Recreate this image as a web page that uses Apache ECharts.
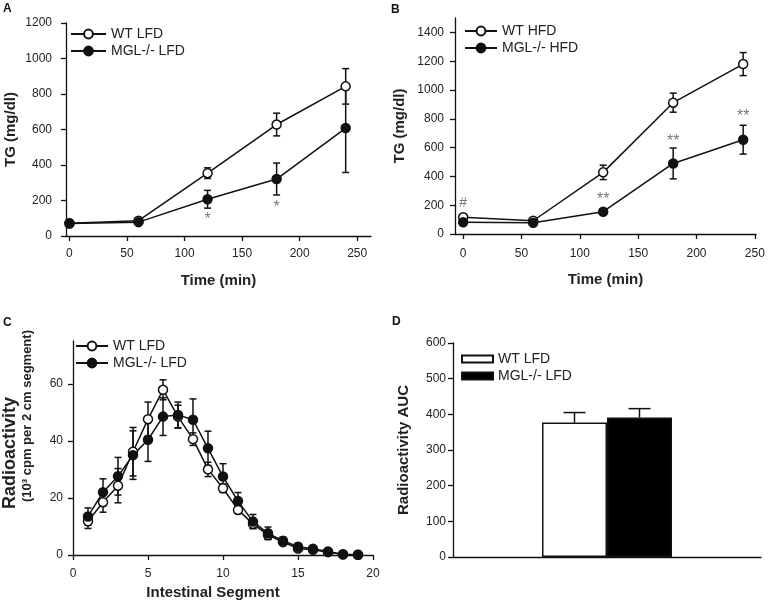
<!DOCTYPE html>
<html>
<head>
<meta charset="utf-8">
<script src="https://cdn.jsdelivr.net/npm/echarts@6/dist/echarts.min.js"></script>
<style>
  html, body { margin: 0; padding: 0; background: #fff; }
  #chart { width: 768px; height: 608px; }
</style>
</head>
<body>
<div id="chart"></div>
<script>
// panel A - TG, low fat diet
const timeA = [0, 60, 120, 180, 240];
const wtLfd = [72, 86, 354, 628, 843];
const wtLfdErr = [8, 10, 30, 64, 100];
const mglLfd = [70, 78, 207, 321, 608];
const mglLfdErr = [6, 8, 50, 90, 250];
const starsA = [[120, 113, '*'], [180, 184, '*']];

// panel B - TG, high fat diet
const timeB = [0, 60, 120, 180, 240];
const wtHfd = [116, 92, 428, 912, 1180];
const wtHfdErr = [10, 8, 50, 66, 80];
const mglHfd = [82, 78, 155, 490, 655];
const mglHfdErr = [8, 8, 15, 107, 100];
const starsB = [[120, 270, '**'], [180, 671, '**'], [240, 842, '**']];
const hashB = [[0, 213, '#']];

// panel C - radioactivity per segment
const segments = [1, 2, 3, 4, 5, 6, 7, 8, 9, 10, 11, 12, 13, 14, 15, 16, 17, 18, 19];
const wtSeg = [11.8, 18.5, 24.3, 36.2, 47.6, 57.9, 48.5, 40.6, 30.0, 23.4, 15.8, 10.9, 7.0, 4.5, 2.3, 1.8, 1.0, 0.3, 0.1];
const wtSegErr = [2.5, 3.5, 6, 8.5, 6, 3.5, 4, 2.2, 2.5, 1.5, 1.2, 1.5, 1.5, 1, 1, 0.8, 0.5, 0.3, 0.2];
const mglSeg = [13.5, 22, 27.6, 35, 40.4, 48.5, 49.1, 47.4, 37.4, 27.5, 18.9, 11.7, 7.6, 5.0, 2.9, 2.2, 1.2, 0.2, 0.1];
const mglSegErr = [3, 4.7, 6.6, 8.5, 7.6, 6.6, 4.5, 7.3, 6, 4.5, 3, 2.5, 2.2, 1.2, 1.2, 0.6, 0.4, 0.2, 0.1];

// panel D - AUC
const aucValues = [377, 391];
const aucErr = [28, 25];

const ticks250 = [0, 50, 100, 150, 200, 250];
const ticksB = [0, 200, 400, 600, 800, 1000, 1200, 1400];
const ticksC = [0, 20, 40, 60];

const legendNames = {
  aWT: 'WT LFD', aMGL: 'MGL-/- LFD',
  bWT: 'WT HFD', bMGL: 'MGL-/- HFD',
  cWT: 'WT LFD', cMGL: 'MGL-/- LFD',
  dWT: 'WT LFD', dMGL: 'MGL-/- LFD'
};

const INK = '#111';
const TXT = '#222';
const FONT = 'Liberation Sans, Arial, sans-serif';

function pairs(xs, ys) { return xs.map((x, i) => [x, ys[i]]); }
function triples(xs, ys, es) { return xs.map((x, i) => [x, ys[i], es[i]]); }

function errorRender(capW, offset, upOnly) {
  return function (params, api) {
    const x = api.value(0), y = api.value(1), e = api.value(2);
    const top = api.coord([x, y + e]);
    const bot = api.coord(upOnly ? [x, y] : [x, y - e]);
    const cx = top[0] + offset;
    const style = { stroke: INK, lineWidth: 1.5 };
    const kids = [
      { type: 'line', shape: { x1: cx, y1: top[1], x2: cx, y2: bot[1] }, style: style },
      { type: 'line', shape: { x1: cx - capW / 2, y1: top[1], x2: cx + capW / 2, y2: top[1] }, style: style }
    ];
    if (!upOnly) {
      kids.push({ type: 'line', shape: { x1: cx - capW / 2, y1: bot[1], x2: cx + capW / 2, y2: bot[1] }, style: style });
    }
    return { type: 'group', children: kids };
  };
}

function lineSeries(name, idx, xs, ys, filled) {
  return {
    type: 'line', name: name, xAxisIndex: idx, yAxisIndex: idx,
    data: pairs(xs, ys), z: 3,
    symbol: 'circle', symbolSize: 9, showSymbol: true,
    lineStyle: { color: INK, width: 1.5 },
    itemStyle: { color: filled ? INK : '#fff', borderColor: INK, borderWidth: 1.5 },
    emphasis: { disabled: true }
  };
}

function errSeries(idx, xs, ys, es, capW) {
  return {
    type: 'custom', xAxisIndex: idx, yAxisIndex: idx, z: 2,
    data: triples(xs, ys, es), clip: true,
    renderItem: errorRender(capW, 0, false), silent: true
  };
}

function markSeries(idx, marks, size, dy) {
  return {
    type: 'scatter', xAxisIndex: idx, yAxisIndex: idx, z: 4,
    data: marks.map(s => [s[0], s[1], s[2]]), symbolSize: 0, silent: true,
    label: {
      show: true, position: 'inside', color: '#555', fontSize: size, fontFamily: FONT,
      offset: [0, dy], formatter: p => p.value[2]
    }
  };
}

function valueAxis(idx, margin, custom, extra) {
  const label = { color: TXT, fontSize: 12, fontFamily: FONT, margin: margin, formatter: v => String(v) };
  const tick = { show: true, inside: false, length: 5, lineStyle: { color: INK, width: 1.3 } };
  if (custom) { label.customValues = custom; tick.customValues = custom; }
  return Object.assign({
    type: 'value', gridIndex: idx,
    axisLine: { show: true, onZero: false, lineStyle: { color: INK, width: 1.3 } },
    axisTick: tick,
    axisLabel: label,
    splitLine: { show: false },
    nameLocation: 'middle',
    nameTextStyle: { color: TXT, fontSize: 15, fontWeight: 'bold', fontFamily: FONT }
  }, extra);
}

function legendFor(left, top, names, itemWidth, icon) {
  const l = {
    orient: 'vertical', left: left, top: top, itemGap: 3,
    itemWidth: itemWidth, itemHeight: 11, data: names,
    selectedMode: false,
    formatter: n => legendNames[n],
    textStyle: { color: TXT, fontSize: 14, fontFamily: FONT }
  };
  if (icon) { l.icon = icon; l.itemHeight = 7; }
  return l;
}

const option = {
  animation: false,
  backgroundColor: '#fff',
  title: [
    { text: 'A', left: 3, top: 3 },
    { text: 'B', left: 391, top: 4 },
    { text: 'C', left: 3, top: 317 },
    { text: 'D', left: 392, top: 316 }
  ].map(t => Object.assign(t, { padding: 0, textStyle: { fontSize: 12, fontWeight: 'bold', color: '#111', fontFamily: FONT } })),
  legend: [
    legendFor(65, 22, ['aWT', 'aMGL'], 35),
    legendFor(459, 19, ['bWT', 'bMGL'], 32),
    legendFor(70, 334, ['cWT', 'cMGL'], 32),
    legendFor(456, 347, ['dWT', 'dMGL'], 31, 'rect')
  ],
  grid: [
    { left: 66, right: 397, top: 23, bottom: 372 },
    { left: 455, right: 12, top: 18, bottom: 374 },
    { left: 68, right: 395, top: 341, bottom: 53 },
    { left: 453, right: 7, top: 343, bottom: 51 }
  ],
  xAxis: [
    valueAxis(0, 12, ticks250, { min: -3, max: 262, name: 'Time (min)', nameGap: 37 }),
    valueAxis(1, 14, ticks250, { min: -7, max: 251, name: 'Time (min)', nameGap: 38 }),
    valueAxis(2, 13, null, { min: 0, max: 20, interval: 5, name: 'Intestinal Segment', nameGap: 30,
      nameTextStyle: { color: TXT, fontSize: 15, fontWeight: 'bold', fontFamily: FONT, padding: [0, 20, 0, 0] } }),
    {
      type: 'category', gridIndex: 3, data: [''],
      axisLine: { show: true, lineStyle: { color: INK, width: 1.3 } },
      axisTick: { show: false }, axisLabel: { show: false }
    }
  ],
  yAxis: [
    valueAxis(0, 14, null, { min: 0, max: 1200, interval: 200, name: 'TG (mg/dl)', nameGap: 48 }),
    valueAxis(1, 11, ticksB, { min: 0, max: 1500, name: 'TG (mg/dl)', nameGap: 48 }),
    valueAxis(2, 10, ticksC, { min: 0, max: 75, name: '{a|Radioactivity}\n{b|(10³ cpm per 2 cm segment)}', nameGap: 38,
      nameTextStyle: {
        color: TXT, fontSize: 15, fontWeight: 'bold', fontFamily: FONT,
        rich: {
          a: { fontSize: 18, fontWeight: 'bold', color: TXT, fontFamily: FONT, lineHeight: 18, padding: [0, 10, 0, 0] },
          b: { fontSize: 13, fontWeight: 'bold', color: TXT, fontFamily: FONT, lineHeight: 16, padding: [0, 0, 0, 64] }
        }
      } }),
    valueAxis(3, 7, null, { min: 0, max: 600, interval: 100, name: 'Radioactivity AUC', nameGap: 42 })
  ],
  series: [
    errSeries(0, timeA, wtLfd, wtLfdErr, 7),
    errSeries(0, timeA, mglLfd, mglLfdErr, 7),
    lineSeries('aWT', 0, timeA, wtLfd, false),
    lineSeries('aMGL', 0, timeA, mglLfd, true),
    markSeries(0, starsA, 16, 4),

    errSeries(1, timeB, wtHfd, wtHfdErr, 7),
    errSeries(1, timeB, mglHfd, mglHfdErr, 7),
    lineSeries('bWT', 1, timeB, wtHfd, false),
    lineSeries('bMGL', 1, timeB, mglHfd, true),
    markSeries(1, starsB, 16, 4),
    markSeries(1, hashB, 14, 0),

    errSeries(2, segments, wtSeg, wtSegErr, 7),
    errSeries(2, segments, mglSeg, mglSegErr, 7),
    lineSeries('cWT', 2, segments, wtSeg, false),
    lineSeries('cMGL', 2, segments, mglSeg, true),

    {
      type: 'bar', name: 'dWT', xAxisIndex: 3, yAxisIndex: 3, data: [aucValues[0]],
      barWidth: 65, barGap: '0%',
      itemStyle: { color: '#fff', borderColor: INK, borderWidth: 1.5 }
    },
    {
      type: 'bar', name: 'dMGL', xAxisIndex: 3, yAxisIndex: 3, data: [aucValues[1]],
      barWidth: 65, barGap: '0%',
      itemStyle: { color: '#000', borderColor: INK, borderWidth: 1.5 }
    },
    {
      type: 'custom', xAxisIndex: 3, yAxisIndex: 3, z: 3, silent: true,
      data: [[0, aucValues[0], aucErr[0]]],
      renderItem: errorRender(22, -32.5, true)
    },
    {
      type: 'custom', xAxisIndex: 3, yAxisIndex: 3, z: 3, silent: true,
      data: [[0, aucValues[1], aucErr[1]]],
      renderItem: errorRender(22, 32.5, true)
    }
  ]
};

const chart = echarts.init(document.getElementById('chart'));
chart.setOption(option);
</script>
</body>
</html>
